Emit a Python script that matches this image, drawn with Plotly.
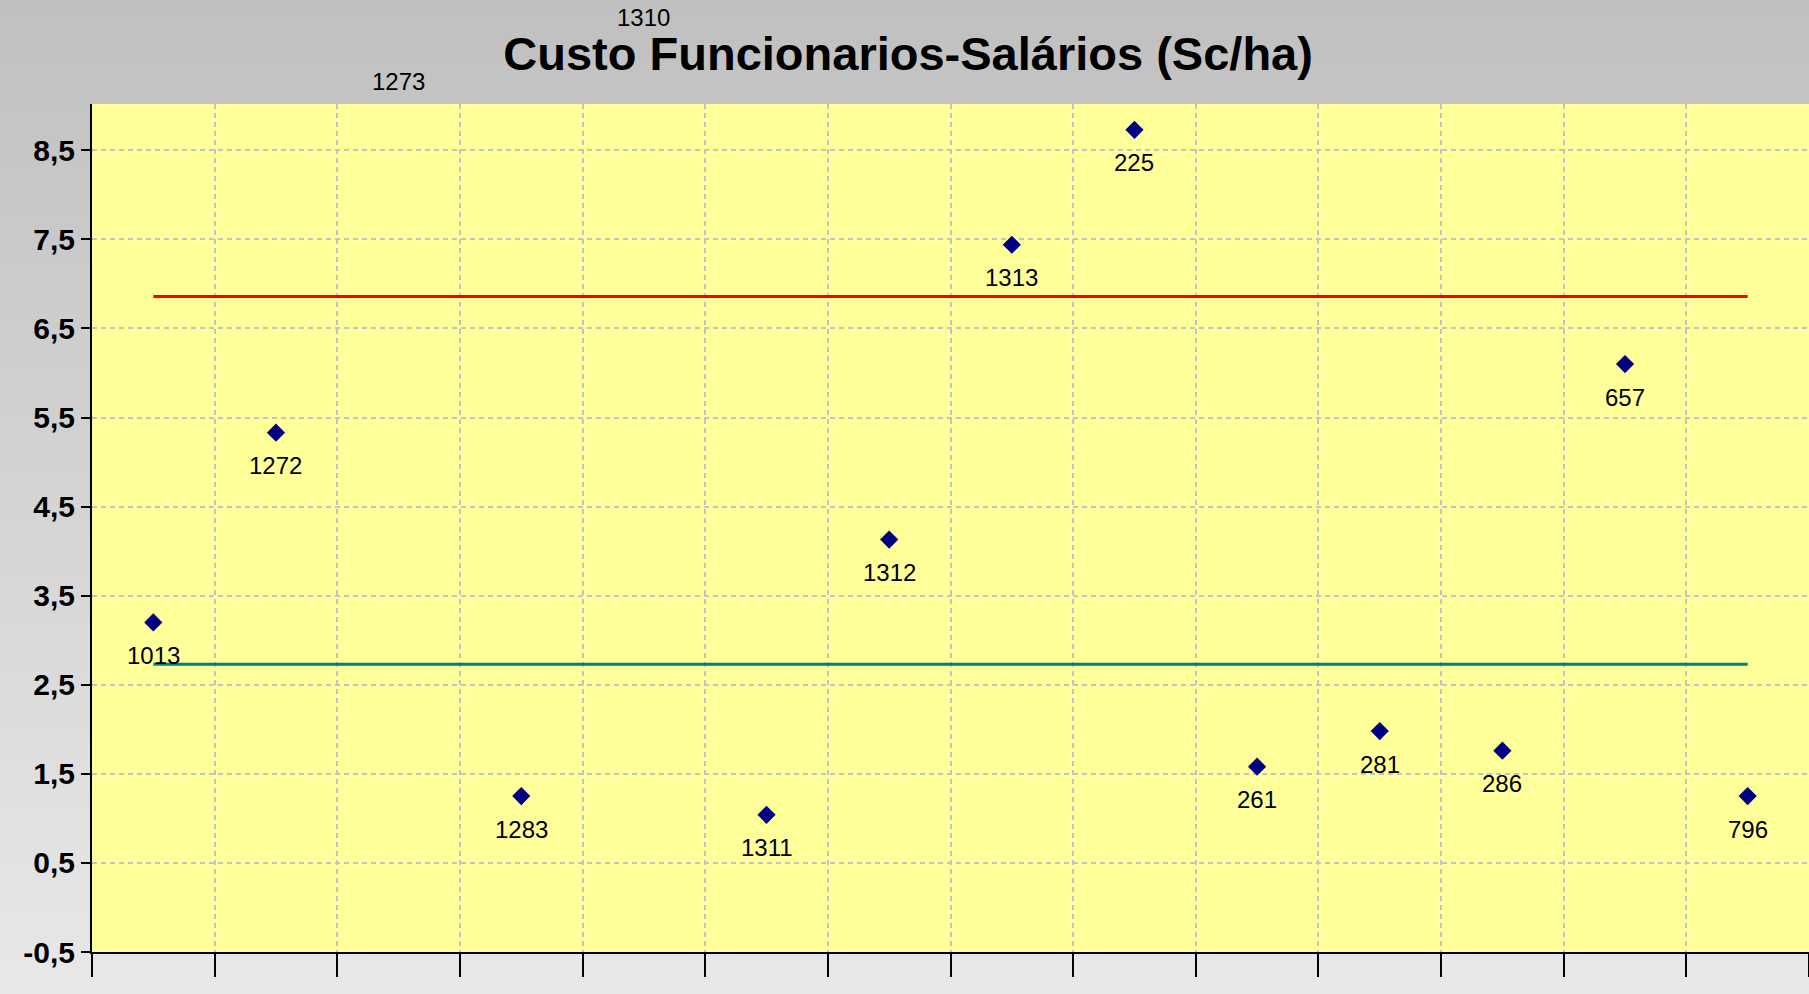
import plotly.graph_objects as go

# ---- data ----
labels = ["1013", "1272", "1273", "1283", "1310", "1311", "1312",
          "1313", "225", "261", "281", "286", "657", "796"]
values = [3.20, 5.33, 9.64, 1.25, 10.36, 1.04, 4.13,
          7.44, 8.73, 1.58, 1.98, 1.76, 6.10, 1.25]
upper_line = [6.86] * len(labels)
lower_line = [2.73] * len(labels)
y_ticks = [-0.5, 0.5, 1.5, 2.5, 3.5, 4.5, 5.5, 6.5, 7.5, 8.5]
y_tick_text = ["-0,5", "0,5", "1,5", "2,5", "3,5", "4,5", "5,5", "6,5", "7,5", "8,5"]

x = list(range(1, len(labels) + 1))
FONT = "Arial, Liberation Sans, sans-serif"
Y_MIN, Y_MAX = -0.5, 9.02

fig = go.Figure()

# gradient paper background (grey top -> light grey bottom)
n_bands = 60
top_c = (192, 192, 192)
bot_c = (232, 232, 232)
shapes = []
span = 1.2
for i in range(n_bands):
    t = i / (n_bands - 1)
    c = tuple(int(round(top_c[k] + (bot_c[k] - top_c[k]) * t)) for k in range(3))
    shapes.append(dict(type="rect", xref="paper", yref="paper",
                       x0=-0.06, x1=1.01,
                       y0=1.13 - (i + 1) * (span / n_bands), y1=1.13 - i * (span / n_bands) + 0.002,
                       fillcolor="rgb(%d,%d,%d)" % c, line=dict(width=0),
                       layer="below"))
# plot area fill
shapes.append(dict(type="rect", xref="paper", yref="paper", x0=0, x1=1, y0=0, y1=1,
                   fillcolor="#FFFF99", line=dict(width=0), layer="below"))

fig.add_trace(go.Scatter(x=x, y=upper_line, mode="lines",
                         line=dict(color="#FF0000", width=3),
                         hoverinfo="skip", showlegend=False))
fig.add_trace(go.Scatter(x=x, y=lower_line, mode="lines",
                         line=dict(color="#008080", width=3),
                         hoverinfo="skip", showlegend=False))
fig.add_trace(go.Scatter(x=x, y=values, mode="markers",
                         marker=dict(symbol="diamond", size=14, color="#000080"),
                         cliponaxis=True, showlegend=False))

# data labels below each point; positioned relative to the y-axis domain so that
# labels of off-scale points stay visible above the plot area (as in the original)
annotations = [dict(x=xi, y=(yi - Y_MIN) / (Y_MAX - Y_MIN), xref="x", yref="y domain",
                    xanchor="center", yanchor="middle",
                    text=lab, showarrow=False, yshift=-33,
                    font=dict(family=FONT, size=24, color="black"))
               for xi, yi, lab in zip(x, values, labels)]

fig.update_layout(
    width=1809, height=994,
    margin=dict(l=92, r=0, t=104, b=42),
    paper_bgcolor="#D4D4D4",
    plot_bgcolor="#FFFF99",
    shapes=shapes,
    annotations=annotations,
    title=dict(text="<b>Custo Funcionarios-Salários (Sc/ha)</b>",
               font=dict(family=FONT, size=47, color="black"),
               x=0.502, xanchor="center", xref="container",
               y=1 - 54 / 994, yanchor="middle", yref="container"),
    xaxis=dict(range=[0.5, 14.5], tickvals=[i + 0.5 for i in range(0, 15)],
               ticktext=[""] * 15, ticks="outside", ticklen=23, tickwidth=2,
               tickcolor="black", showline=True, linecolor="black", linewidth=2,
               showgrid=True, gridcolor="#C2C2CA", griddash="5px,4px", gridwidth=2,
               zeroline=False, fixedrange=True),
    yaxis=dict(range=[Y_MIN, Y_MAX], tickvals=y_ticks, ticktext=y_tick_text,
               ticks="outside", ticklen=9, tickwidth=2, tickcolor="black",
               showline=True, linecolor="black", linewidth=2,
               showgrid=True, gridcolor="#C2C2CA", griddash="5px,4px", gridwidth=2,
               zeroline=False, fixedrange=True,
               tickfont=dict(family=FONT, size=30, color="black", weight="bold")),
)

fig.write_html("out.html", config={"displayModeBar": False},
               post_script="document.body.style.margin='0';document.body.style.padding='0';")
